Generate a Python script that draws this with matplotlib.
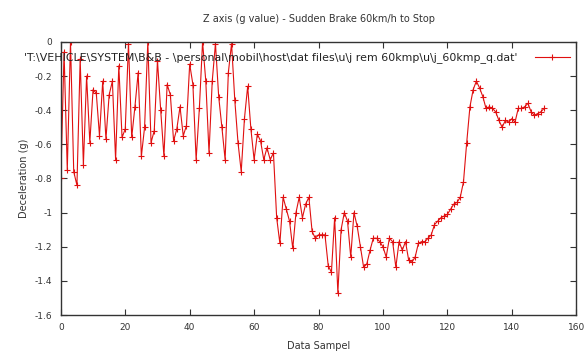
import matplotlib
matplotlib.use('Agg')
import matplotlib.pyplot as plt
import numpy as np

# deceleration samples (g), one per data sample
decel = [
    -0.80, -0.06, -0.75, 0.00, -0.76, -0.84, -0.10, -0.72, -0.20, -0.59,
    -0.28, -0.30, -0.55, -0.23, -0.57, -0.31, -0.23, -0.69, -0.14, -0.56,
    -0.51, -0.01, -0.56, -0.38, -0.18, -0.67, -0.50, 0.00, -0.59, -0.52,
    -0.11, -0.40, -0.67, -0.25, -0.31, -0.58, -0.51, -0.38, -0.55, -0.49,
    -0.13, -0.25, -0.69, -0.39, 0.00, -0.23, -0.65, -0.23, -0.01, -0.32,
    -0.50, -0.69, -0.18, -0.01, -0.34, -0.59, -0.76, -0.45, -0.26, -0.51,
    -0.69, -0.54, -0.58, -0.69, -0.62, -0.69, -0.65,
    -1.03, -1.18, -0.91, -0.98, -1.05, -1.21, -1.00, -0.91, -1.03, -0.95,
    -0.91, -1.11, -1.15, -1.13, -1.13, -1.13, -1.31, -1.35, -1.03, -1.47,
    -1.10, -1.00, -1.05, -1.26, -1.00, -1.08, -1.20, -1.32, -1.30, -1.22,
    -1.15, -1.15, -1.17, -1.20, -1.26, -1.15, -1.17, -1.32, -1.17, -1.22,
    -1.17, -1.28, -1.29, -1.26, -1.18, -1.17, -1.17, -1.15, -1.13, -1.07,
    -1.05, -1.03, -1.02, -1.01, -0.98, -0.95, -0.94, -0.91, -0.82, -0.59,
    -0.38, -0.28, -0.23, -0.27, -0.32, -0.39, -0.38, -0.39, -0.41, -0.46,
    -0.50, -0.46, -0.47, -0.45, -0.47, -0.39, -0.39, -0.38, -0.36, -0.41,
    -0.43, -0.42, -0.41, -0.39,
]
samples = np.arange(len(decel))

xticks = [0, 20, 40, 60, 80, 100, 120, 140, 160]
yticks = [0, -0.2, -0.4, -0.6, -0.8, -1.0, -1.2, -1.4, -1.6]
ylabels = ['0', '-0.2', '-0.4', '-0.6', '-0.8', '-1', '-1.2', '-1.4', '-1.6']

legend_label = "'T:\\VEHICLE\\SYSTEM\\B&B - \\personal\\mobil\\host\\dat files\\u\\j rem 60kmp\\u\\j_60kmp_q.dat'"

fig = plt.figure(figsize=(5.85, 3.58), dpi=100)
ax = fig.add_axes([0.104, 0.120, 0.881, 0.763])

ax.plot(samples, decel, color='#e01010', lw=0.8, marker='+', ms=5, mew=0.8,
        label=legend_label)

ax.set_xlim(0, 160)
ax.set_ylim(-1.6, 0)
ax.set_xticks(xticks)
ax.set_xticklabels([str(t) for t in xticks])
ax.set_yticks(yticks)
ax.set_yticklabels(ylabels)
ax.tick_params(direction='in', length=4, width=0.8, top=True, right=True,
               labelsize=6.5, labelcolor='#333333', color='#333333', pad=6)
for s in ax.spines.values():
    s.set_color('#333333')
    s.set_linewidth(1.0)

ax.set_title('Z axis (g value) - Sudden Brake 60km/h to Stop', fontsize=7,
             color='#333333', pad=14)
ax.set_xlabel('Data Sampel', fontsize=7, color='#333333', labelpad=6)
ax.set_ylabel('Deceleration (g)', fontsize=7, color='#333333', labelpad=4)

leg = ax.legend(loc='upper right', bbox_to_anchor=(1.0, 0.985), frameon=False,
                markerfirst=False, fontsize=7.9, handlelength=3.2, handletextpad=1.6,
                borderaxespad=0.2)
for t in leg.get_texts():
    t.set_color('#222222')

fig.savefig('out.png', dpi=100)
